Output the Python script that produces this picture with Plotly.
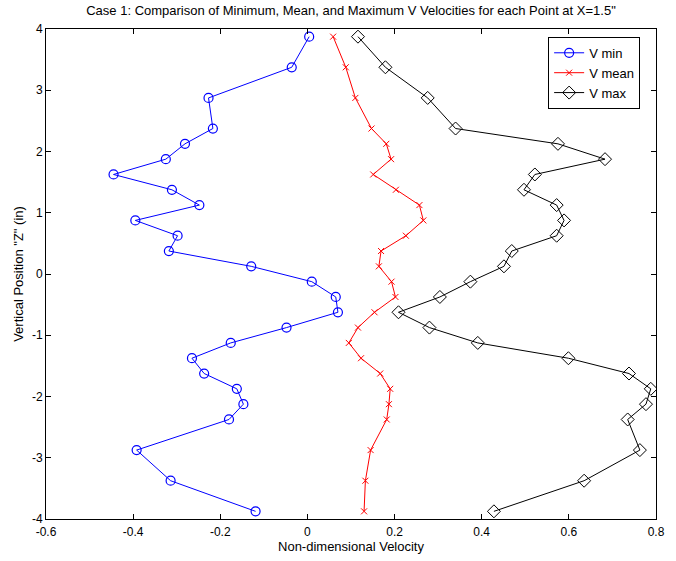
import plotly.graph_objects as go

z = [3.875, 3.375, 2.875, 2.375, 2.125, 1.875, 1.625, 1.375, 1.125, 0.875, 0.625,
     0.375, 0.125, -0.125, -0.375, -0.625, -0.875, -1.125, -1.375, -1.625, -1.875,
     -2.125, -2.375, -2.875, -3.375, -3.875]

v_min = [0.004, -0.036, -0.227, -0.217, -0.281, -0.325, -0.445, -0.311, -0.248, -0.395,
         -0.298, -0.318, -0.129, 0.010, 0.065, 0.070, -0.048, -0.176, -0.265, -0.237,
         -0.162, -0.147, -0.180, -0.392, -0.314, -0.119]

v_mean = [0.059, 0.088, 0.110, 0.147, 0.181, 0.192, 0.151, 0.203, 0.257, 0.266, 0.226,
          0.169, 0.164, 0.193, 0.202, 0.154, 0.116, 0.095, 0.123, 0.167, 0.190, 0.187,
          0.182, 0.145, 0.133, 0.130]

v_max = [0.116, 0.179, 0.276, 0.340, 0.575, 0.683, 0.522, 0.497, 0.572, 0.589, 0.572,
         0.469, 0.451, 0.374, 0.304, 0.209, 0.280, 0.391, 0.599, 0.738, 0.788, 0.777,
         0.735, 0.763, 0.635, 0.428]

x_ticks = [-0.6, -0.4, -0.2, 0, 0.2, 0.4, 0.6, 0.8]
x_tick_labels = ["-0.6", "-0.4", "-0.2", "0", "0.2", "0.4", "0.6", "0.8"]
y_ticks = [-4, -3, -2, -1, 0, 1, 2, 3, 4]
y_tick_labels = ["-4", "-3", "-2", "-1", "0", "1", "2", "3", "4"]

FONT = "Liberation Sans, Arial, sans-serif"

fig = go.Figure()
fig.add_trace(go.Scatter(
    x=v_min, y=z, name="V min", mode="lines+markers",
    line=dict(color="#0000ff", width=1),
    marker=dict(symbol="circle-open", size=9, color="#0000ff", line=dict(width=1.2)),
))
fig.add_trace(go.Scatter(
    x=v_mean, y=z, name="V mean", mode="lines+markers",
    line=dict(color="#ff0000", width=1),
    marker=dict(symbol="x-thin-open", size=6, color="#ff0000", line=dict(width=1, color="#ff0000")),
))
fig.add_trace(go.Scatter(
    x=v_max, y=z, name="V max", mode="lines+markers",
    line=dict(color="#000000", width=1),
    marker=dict(symbol="diamond-open", size=10, color="#000000", line=dict(width=1)),
))

axis_common = dict(
    showgrid=False, zeroline=False, showline=True, linecolor="black", linewidth=1,
    mirror="ticks", ticks="inside", ticklen=5, tickcolor="black", tickwidth=1,
    tickfont=dict(family=FONT, size=12, color="black"),
)

fig.update_layout(
    width=676, height=561,
    margin=dict(l=46, r=11, t=29, b=42),
    paper_bgcolor="white", plot_bgcolor="white",
    font=dict(family=FONT, size=12, color="black"),
    title=dict(text='Case 1: Comparison of Minimum, Mean, and Maximum V Velocities for each Point at X=1.5"',
               x=0.5, xref="paper", y=1, yref="container", yanchor="top", pad=dict(t=6),
               font=dict(family=FONT, size=13, color="black")),
    xaxis=dict(range=[-0.6, 0.8], tickvals=x_ticks, ticktext=x_tick_labels, ticklabelstandoff=2,
               title=dict(text="Non-dimensional Velocity", standoff=1,
                          font=dict(family=FONT, size=13)), **axis_common),
    yaxis=dict(range=[-4, 4], tickvals=y_ticks, ticktext=y_tick_labels,
               title=dict(text='Vertical Position "Z" (in)', standoff=5,
                          font=dict(family=FONT, size=13)), **axis_common),
    legend=dict(x=0.974, y=0.984, xanchor="right", yanchor="top",
                bordercolor="black", borderwidth=1, bgcolor="white",
                font=dict(family=FONT, size=13), tracegroupgap=0, itemwidth=30),
    showlegend=True,
)

fig.write_html("out.html")
